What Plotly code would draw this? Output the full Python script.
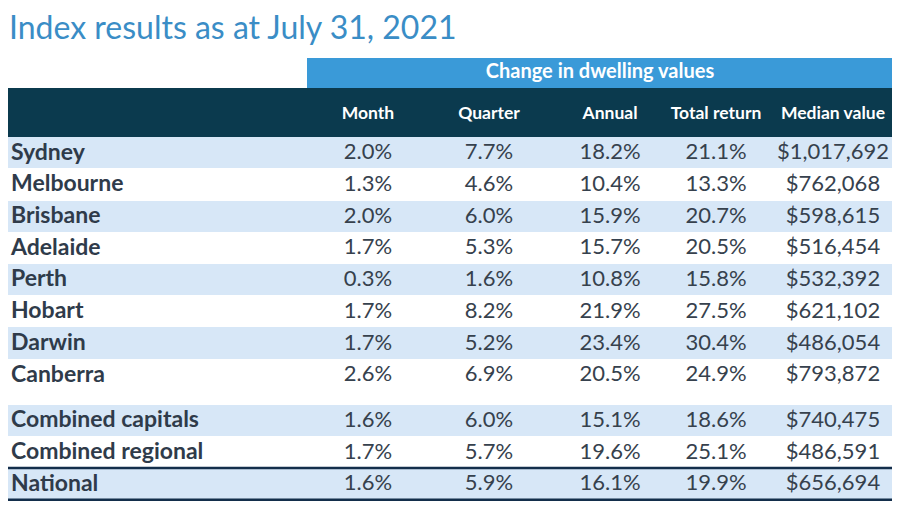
import plotly.graph_objects as go

# ---------------- data ----------------
regions = ["Sydney", "Melbourne", "Brisbane", "Adelaide", "Perth", "Hobart",
           "Darwin", "Canberra", "Combined capitals", "Combined regional", "National"]
month = [2.0, 1.3, 2.0, 1.7, 0.3, 1.7, 1.7, 2.6, 1.6, 1.7, 1.6]
quarter = [7.7, 4.6, 6.0, 5.3, 1.6, 8.2, 5.2, 6.9, 6.0, 5.7, 5.9]
annual = [18.2, 10.4, 15.9, 15.7, 10.8, 21.9, 23.4, 20.5, 15.1, 19.6, 16.1]
total_return = [21.1, 13.3, 20.7, 20.5, 15.8, 27.5, 30.4, 24.9, 18.6, 25.1, 19.9]
median_value = [1017692, 762068, 598615, 516454, 532392, 621102, 486054, 793872,
                740475, 486591, 656694]
column_labels = ["Month", "Quarter", "Annual", "Total return", "Median value"]
group_label = "Change in dwelling values"
title_text = "Index results as at July 31, 2021"

# ---------------- styling / layout ----------------
W, H = 900, 511
OFF = 8  # page body margin; the figure is drawn so that axis units equal window pixels
FONT = "Lato"
TXT = "#2f3b4a"
VAL = "#36414d"
LIGHT = "#d7e7f7"
DARK = "#0b3a4e"
BLUE = "#3a9ad8"
LINE = "#132e4b"
TABLE_L, TABLE_R = 8, 893
col_x = [368, 489, 610, 716, 833]
header_top, header_bot = 88, 137
band_top = 58
band_left = 307
row_h = 31.7
gap = 14

# row geometry derived from row index
row_top = []
for i in range(len(regions)):
    t = header_bot + i * row_h + (gap if i >= 8 else 0)
    row_top.append(t)
row_mid = [t + row_h / 2 for t in row_top]

fig = go.Figure()

# banded row backgrounds (every other row within each block)
band_rows = [i for i in range(len(regions)) if (i if i < 8 else i - 8) % 2 == 0]
fig.add_trace(go.Bar(
    y=[row_mid[i] for i in band_rows], x=[TABLE_R - TABLE_L] * len(band_rows),
    base=TABLE_L, orientation="h", width=row_h - 0.5,
    marker=dict(color=LIGHT, line=dict(width=0)), hoverinfo="skip", showlegend=False))

# header bands
fig.add_trace(go.Bar(
    y=[(header_top + header_bot) / 2], x=[TABLE_R - TABLE_L], base=TABLE_L,
    orientation="h", width=header_bot - header_top,
    marker=dict(color=DARK, line=dict(width=0)), hoverinfo="skip", showlegend=False))
fig.add_trace(go.Bar(
    y=[(band_top + header_top) / 2], x=[TABLE_R - band_left], base=band_left,
    orientation="h", width=header_top - band_top,
    marker=dict(color=BLUE, line=dict(width=0)), hoverinfo="skip", showlegend=False))

# group label and column labels
fig.add_trace(go.Scatter(
    x=[(band_left + TABLE_R) / 2], y=[(band_top + header_top) / 2], mode="text",
    text=[f"<b>{group_label}</b>"], textposition="middle center", cliponaxis=False,
    textfont=dict(family=FONT, size=20, color="white"), hoverinfo="skip", showlegend=False))
fig.add_trace(go.Scatter(
    x=col_x, y=[(header_top + header_bot) / 2 + 2] * len(col_x), mode="text",
    text=[f"<b>{c}</b>" for c in column_labels], textposition="middle center",
    cliponaxis=False,
    textfont=dict(family=FONT, size=17.5, color="white"), hoverinfo="skip", showlegend=False))

# region names
fig.add_trace(go.Scatter(
    x=[11] * len(regions), y=[m + 1 for m in row_mid], mode="text",
    text=[f"<b>{r}</b>" for r in regions], textposition="middle right", cliponaxis=False,
    textfont=dict(family=FONT, size=23, color=TXT), hoverinfo="skip", showlegend=False))

# values
cols = [
    [f"{v:.1f}%" for v in month],
    [f"{v:.1f}%" for v in quarter],
    [f"{v:.1f}%" for v in annual],
    [f"{v:.1f}%" for v in total_return],
    [f"${v:,}" for v in median_value],
]
for cx, vals in zip(col_x, cols):
    fig.add_trace(go.Scatter(
        x=[cx] * len(vals), y=[m + 1 for m in row_mid], mode="text", text=vals,
        textposition="middle center", cliponaxis=False,
        textfont=dict(family=FONT, size=22, color=VAL), hoverinfo="skip", showlegend=False))

# title
fig.add_trace(go.Scatter(
    x=[9], y=[31], mode="text", text=[title_text], textposition="middle right",
    cliponaxis=False,
    textfont=dict(family=FONT, size=32, color="#3a8dc6"), hoverinfo="skip", showlegend=False))

# rules around National row
for yy in [row_top[-1], row_top[-1] + row_h]:
    fig.add_shape(type="line", xref="x", yref="y", x0=TABLE_L, x1=TABLE_R, y0=yy, y1=yy,
                  line=dict(color=LINE, width=2.5))

fig.update_layout(
    width=W - OFF, height=H - OFF, margin=dict(l=0, r=0, t=0, b=0),
    paper_bgcolor="white", plot_bgcolor="white",
    barmode="overlay", bargap=0,
    xaxis=dict(range=[OFF, W], visible=False, fixedrange=True),
    yaxis=dict(range=[H, OFF], visible=False, fixedrange=True),
    font=dict(family=FONT),
)

fig.write_html("out.html")
